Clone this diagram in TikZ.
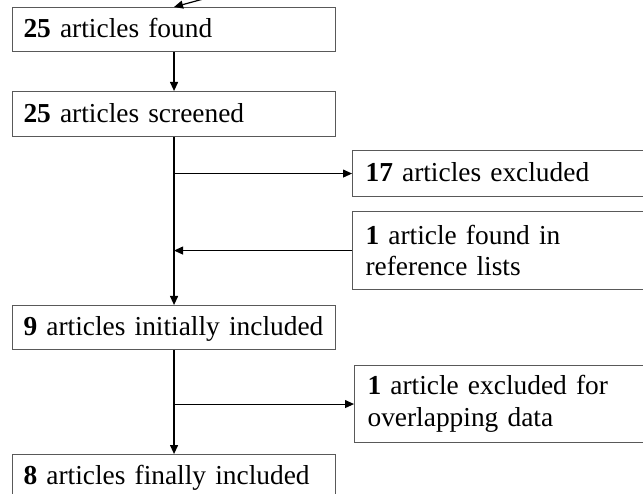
\documentclass[tikz,border=0pt]{standalone}
\usepackage{fontspec}
\setmainfont{Liberation Serif}
\usetikzlibrary{arrows.meta}
\tikzset{
  stage/.style={draw=black!65, line width=1.1pt, anchor=north west, align=left,
    inner xsep=11pt, inner ysep=0pt, text width=301pt, minimum height=44pt,
    text height=18pt, text depth=2pt, font=\fontsize{27.4}{31.5}\selectfont},
  side/.style={draw=black!65, line width=1.1pt, anchor=north west, align=left,
    inner xsep=13pt, inner ysep=0pt, text width=290pt,
    font=\fontsize{27.4}{31.5}\selectfont},
  flow/.style={->, line width=1.2pt},
}
\begin{document}
\begin{tikzpicture}[x=1pt,y=-1pt,>={Triangle[length=9pt,width=8pt]}]
	\useasboundingbox (0,0) rectangle (643,494);
	\clip (0,0) rectangle (643,494);
	% main column
	\node[stage] (found) at (12,7) {\textbf{25} articles found};
	\node[stage, minimum height=45pt] (screened) at (12,91) {\textbf{25} articles screened};
	\node[stage] (initial) at (12,305) {\textbf{9} articles initially included};
	\node[stage] (final) at (12,454) {\textbf{8} articles finally included};
	% side boxes
	\node[side, minimum height=46pt, text height=18pt, text depth=2pt] (excl) at (352,150) {\textbf{17} articles excluded};
	\node[side, minimum height=78pt] (reflist) at (352,211) {\textbf{1} article found in\\reference lists};
	\node[side, minimum height=77pt] (overlap) at (354,365) {\textbf{1} article excluded for\\overlapping data};
	\coordinate (src) at (240,-11);
	% connectors
	\draw[flow] (src) -- (found.north);
	\draw[flow] (found) -- (screened);
	\draw[flow] (screened) -- (initial);
	\draw[flow] (initial) -- (final);
	\draw[flow, line width=1pt] (screened.south |- excl.west) -- (excl.west);
	\draw[flow, line width=1pt] (reflist.west) -- (screened.south |- reflist.west);
	\draw[flow, line width=1pt] (initial.south |- overlap.west) -- (overlap.west);
\end{tikzpicture}
\end{document}
